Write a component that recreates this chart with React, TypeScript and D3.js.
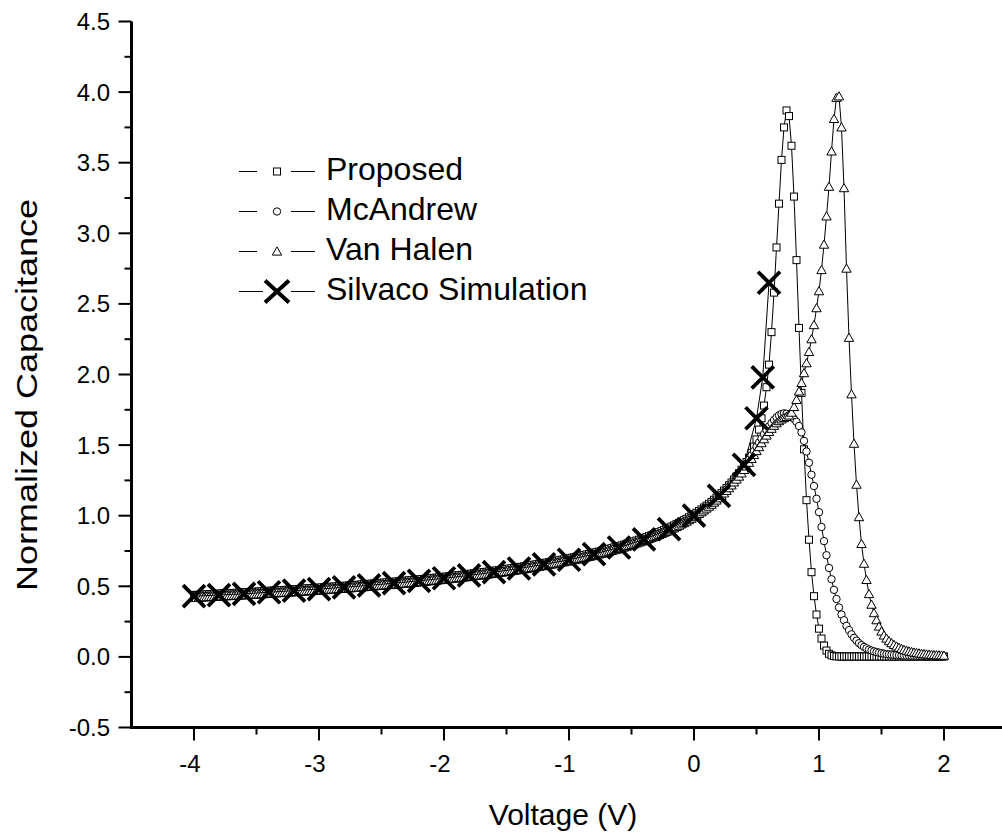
import React from 'react';
import * as d3 from 'd3';

// Voltage grid of the three model curves: -4 V to 2 V in 0.02 V steps
const VOLTAGE_START = -4;
const VOLTAGE_STEP = 0.02;

const PROPOSED = [
  0.439, 0.439, 0.440, 0.441, 0.442, 0.443, 0.444, 0.445, 0.446, 0.447,
  0.448, 0.449, 0.450, 0.450, 0.451, 0.452, 0.453, 0.454, 0.455, 0.456,
  0.457, 0.458, 0.459, 0.460, 0.461, 0.462, 0.463, 0.464, 0.465, 0.466,
  0.468, 0.469, 0.470, 0.471, 0.472, 0.473, 0.474, 0.475, 0.476, 0.477,
  0.479, 0.480, 0.481, 0.482, 0.483, 0.485, 0.486, 0.487, 0.488, 0.489,
  0.490, 0.492, 0.493, 0.494, 0.496, 0.497, 0.498, 0.499, 0.501, 0.502,
  0.503, 0.505, 0.506, 0.507, 0.509, 0.510, 0.511, 0.513, 0.514, 0.516,
  0.517, 0.519, 0.520, 0.522, 0.523, 0.525, 0.526, 0.528, 0.529, 0.531,
  0.532, 0.534, 0.535, 0.537, 0.539, 0.540, 0.542, 0.544, 0.545, 0.547,
  0.549, 0.551, 0.552, 0.554, 0.556, 0.558, 0.560, 0.561, 0.563, 0.565,
  0.567, 0.569, 0.571, 0.573, 0.575, 0.577, 0.579, 0.581, 0.583, 0.585,
  0.587, 0.590, 0.592, 0.594, 0.596, 0.598, 0.601, 0.603, 0.605, 0.608,
  0.610, 0.612, 0.615, 0.617, 0.620, 0.622, 0.625, 0.628, 0.630, 0.633,
  0.636, 0.638, 0.641, 0.644, 0.647, 0.650, 0.653, 0.656, 0.659, 0.662,
  0.665, 0.668, 0.671, 0.674, 0.678, 0.681, 0.684, 0.688, 0.691, 0.695,
  0.698, 0.702, 0.706, 0.709, 0.713, 0.717, 0.721, 0.725, 0.729, 0.733,
  0.738, 0.742, 0.746, 0.751, 0.755, 0.760, 0.765, 0.770, 0.775, 0.780,
  0.785, 0.790, 0.795, 0.801, 0.806, 0.812, 0.818, 0.824, 0.830, 0.836,
  0.842, 0.849, 0.855, 0.862, 0.869, 0.876, 0.883, 0.891, 0.899, 0.906,
  0.915, 0.923, 0.931, 0.940, 0.949, 0.959, 0.968, 0.978, 0.989, 0.999,
  1.010, 1.021, 1.033, 1.045, 1.058, 1.071, 1.084, 1.098, 1.113, 1.128,
  1.144, 1.160, 1.178, 1.196, 1.215, 1.235, 1.256, 1.278, 1.301, 1.326,
  1.352, 1.380, 1.410, 1.445, 1.490, 1.540, 1.610, 1.690, 1.780, 1.910,
  2.070, 2.300, 2.580, 2.900, 3.210, 3.520, 3.750, 3.870, 3.830, 3.620,
  3.260, 2.810, 2.330, 1.870, 1.470, 1.110, 0.830, 0.600, 0.430, 0.300,
  0.200, 0.130, 0.080, 0.045, 0.022, 0.011, 0.006, 0.004, 0.003, 0.003,
  0.003, 0.003, 0.003, 0.003, 0.003, 0.003, 0.003, 0.003, 0.003, 0.003,
  0.003, 0.003, 0.003, 0.003, 0.003, 0.003, 0.003, 0.003, 0.003, 0.003,
  0.003, 0.003, 0.003, 0.003, 0.003, 0.003, 0.003, 0.003, 0.003, 0.003,
  0.003, 0.003, 0.003, 0.003, 0.003, 0.003, 0.003, 0.003, 0.003, 0.003,
  0.003,
];

const MCANDREW = [
  0.429, 0.429, 0.430, 0.431, 0.432, 0.433, 0.434, 0.435, 0.436, 0.437,
  0.438, 0.439, 0.440, 0.440, 0.441, 0.442, 0.443, 0.444, 0.445, 0.446,
  0.447, 0.448, 0.449, 0.450, 0.451, 0.452, 0.453, 0.454, 0.455, 0.456,
  0.458, 0.459, 0.460, 0.461, 0.462, 0.463, 0.464, 0.465, 0.466, 0.467,
  0.469, 0.470, 0.471, 0.472, 0.473, 0.475, 0.476, 0.477, 0.478, 0.479,
  0.480, 0.482, 0.483, 0.484, 0.486, 0.487, 0.488, 0.489, 0.491, 0.492,
  0.493, 0.495, 0.496, 0.497, 0.499, 0.500, 0.501, 0.503, 0.504, 0.506,
  0.507, 0.509, 0.510, 0.512, 0.513, 0.515, 0.516, 0.518, 0.519, 0.521,
  0.522, 0.524, 0.525, 0.527, 0.529, 0.530, 0.532, 0.534, 0.535, 0.537,
  0.539, 0.541, 0.542, 0.544, 0.546, 0.548, 0.550, 0.551, 0.553, 0.555,
  0.557, 0.559, 0.561, 0.563, 0.565, 0.567, 0.569, 0.571, 0.573, 0.575,
  0.577, 0.580, 0.582, 0.584, 0.586, 0.588, 0.591, 0.593, 0.595, 0.598,
  0.600, 0.602, 0.605, 0.607, 0.610, 0.612, 0.615, 0.618, 0.620, 0.623,
  0.626, 0.628, 0.631, 0.634, 0.637, 0.640, 0.643, 0.646, 0.649, 0.652,
  0.655, 0.658, 0.661, 0.664, 0.668, 0.671, 0.674, 0.678, 0.681, 0.685,
  0.688, 0.692, 0.696, 0.699, 0.703, 0.707, 0.711, 0.715, 0.719, 0.723,
  0.728, 0.732, 0.736, 0.741, 0.745, 0.750, 0.755, 0.760, 0.765, 0.770,
  0.775, 0.780, 0.785, 0.791, 0.796, 0.802, 0.808, 0.814, 0.820, 0.826,
  0.832, 0.839, 0.845, 0.852, 0.859, 0.866, 0.873, 0.881, 0.889, 0.896,
  0.905, 0.913, 0.921, 0.930, 0.939, 0.949, 0.958, 0.968, 0.979, 0.989,
  1.000, 1.011, 1.023, 1.035, 1.048, 1.061, 1.074, 1.088, 1.103, 1.118,
  1.134, 1.150, 1.168, 1.186, 1.205, 1.225, 1.246, 1.268, 1.291, 1.316,
  1.342, 1.369, 1.398, 1.428, 1.458, 1.488, 1.518, 1.548, 1.578, 1.606,
  1.632, 1.656, 1.678, 1.697, 1.711, 1.720, 1.725, 1.722, 1.712, 1.700,
  1.685, 1.665, 1.635, 1.590, 1.530, 1.455, 1.375, 1.290, 1.210, 1.120,
  1.025, 0.920, 0.820, 0.720, 0.630, 0.550, 0.475, 0.410, 0.350, 0.300,
  0.260, 0.220, 0.190, 0.160, 0.135, 0.115, 0.097, 0.083, 0.071, 0.061,
  0.052, 0.045, 0.039, 0.034, 0.030, 0.026, 0.023, 0.020, 0.018, 0.016,
  0.014, 0.013, 0.012, 0.011, 0.010, 0.009, 0.009, 0.008, 0.008, 0.007,
  0.007, 0.007, 0.006, 0.006, 0.006, 0.006, 0.005, 0.005, 0.005, 0.005,
  0.005,
];

const VAN_HALEN = [
  0.419, 0.419, 0.420, 0.421, 0.422, 0.423, 0.424, 0.425, 0.426, 0.427,
  0.428, 0.429, 0.430, 0.430, 0.431, 0.432, 0.433, 0.434, 0.435, 0.436,
  0.437, 0.438, 0.439, 0.440, 0.441, 0.442, 0.443, 0.444, 0.445, 0.446,
  0.448, 0.449, 0.450, 0.451, 0.452, 0.453, 0.454, 0.455, 0.456, 0.457,
  0.459, 0.460, 0.461, 0.462, 0.463, 0.465, 0.466, 0.467, 0.468, 0.469,
  0.470, 0.472, 0.473, 0.474, 0.476, 0.477, 0.478, 0.479, 0.481, 0.482,
  0.483, 0.485, 0.486, 0.487, 0.489, 0.490, 0.491, 0.493, 0.494, 0.496,
  0.497, 0.499, 0.500, 0.502, 0.503, 0.505, 0.506, 0.508, 0.509, 0.511,
  0.512, 0.514, 0.515, 0.517, 0.519, 0.520, 0.522, 0.524, 0.525, 0.527,
  0.529, 0.531, 0.532, 0.534, 0.536, 0.538, 0.540, 0.541, 0.543, 0.545,
  0.547, 0.549, 0.551, 0.553, 0.555, 0.557, 0.559, 0.561, 0.563, 0.565,
  0.567, 0.570, 0.572, 0.574, 0.576, 0.578, 0.581, 0.583, 0.585, 0.588,
  0.590, 0.592, 0.595, 0.597, 0.600, 0.602, 0.605, 0.608, 0.610, 0.613,
  0.616, 0.618, 0.621, 0.624, 0.627, 0.630, 0.633, 0.636, 0.639, 0.642,
  0.645, 0.648, 0.651, 0.654, 0.658, 0.661, 0.664, 0.668, 0.671, 0.675,
  0.678, 0.682, 0.686, 0.689, 0.693, 0.697, 0.701, 0.705, 0.709, 0.713,
  0.718, 0.722, 0.726, 0.731, 0.735, 0.740, 0.745, 0.750, 0.755, 0.760,
  0.765, 0.770, 0.775, 0.781, 0.786, 0.792, 0.798, 0.804, 0.810, 0.816,
  0.822, 0.829, 0.835, 0.842, 0.849, 0.856, 0.863, 0.871, 0.879, 0.886,
  0.895, 0.903, 0.911, 0.920, 0.929, 0.939, 0.948, 0.958, 0.969, 0.979,
  0.990, 1.001, 1.013, 1.025, 1.038, 1.051, 1.064, 1.078, 1.093, 1.108,
  1.124, 1.140, 1.158, 1.176, 1.195, 1.215, 1.236, 1.256, 1.277, 1.300,
  1.324, 1.349, 1.375, 1.402, 1.430, 1.458, 1.486, 1.514, 1.542, 1.568,
  1.593, 1.616, 1.637, 1.655, 1.670, 1.682, 1.692, 1.700, 1.710, 1.730,
  1.770, 1.820, 1.880, 1.940, 2.010, 2.080, 2.160, 2.250, 2.350, 2.470,
  2.590, 2.740, 2.920, 3.120, 3.330, 3.580, 3.810, 3.960, 3.970, 3.750,
  3.320, 2.750, 2.260, 1.860, 1.510, 1.220, 0.990, 0.800, 0.660, 0.545,
  0.445, 0.370, 0.310, 0.260, 0.215, 0.180, 0.152, 0.130, 0.112, 0.097,
  0.085, 0.074, 0.065, 0.057, 0.050, 0.044, 0.039, 0.035, 0.031, 0.028,
  0.025, 0.022, 0.020, 0.018, 0.016, 0.015, 0.013, 0.012, 0.011, 0.010,
  0.009,
];

const SILVACO_V = [
  -4.0, -3.8, -3.6, -3.4, -3.2, -3.0, -2.8, -2.6, -2.4, -2.2,
  -2.0, -1.8, -1.6, -1.4, -1.2, -1.0, -0.8, -0.6, -0.4, -0.2,
  0.0, 0.2, 0.4, 0.5, 0.55, 0.6,
];
const SILVACO_C = [
  0.43, 0.438, 0.447, 0.458, 0.469, 0.48, 0.493, 0.507, 0.522, 0.539,
  0.557, 0.577, 0.6, 0.626, 0.655, 0.688, 0.728, 0.775, 0.832, 0.905,
  1.0, 1.14, 1.36, 1.69, 1.98, 2.65,
];

const X_TICKS = [-4, -3, -2, -1, 0, 1, 2];
const X_MINOR = [-3.5, -2.5, -1.5, -0.5, 0.5, 1.5, 2.5];
const Y_TICKS = [-0.5, 0, 0.5, 1, 1.5, 2, 2.5, 3, 3.5, 4, 4.5];
const Y_MINOR = [-0.25, 0.25, 0.75, 1.25, 1.75, 2.25, 2.75, 3.25, 3.75, 4.25];
const SERIES_NAMES = ['Proposed', 'McAndrew', 'Van Halen', 'Silvaco Simulation'];

const W = 1002;
const H = 839;
const FONT = '"Liberation Sans", Arial, Helvetica, sans-serif';

type Kind = 'square' | 'circle' | 'triangle' | 'cross';

function Marker({ kind, cx, cy }: { kind: Kind; cx: number; cy: number }) {
  if (kind === 'square') {
    return <rect x={cx - 3.5} y={cy - 3.5} width={7} height={7} fill="#fff" stroke="#000" strokeWidth={1} />;
  }
  if (kind === 'circle') {
    return <circle cx={cx} cy={cy} r={3.7} fill="#fff" stroke="#000" strokeWidth={1} />;
  }
  if (kind === 'triangle') {
    return (
      <path
        d={`M${cx},${cy - 4.6}L${cx + 4.7},${cy + 3.6}L${cx - 4.7},${cy + 3.6}Z`}
        fill="#fff"
        stroke="#000"
        strokeWidth={1}
      />
    );
  }
  const s = 11;
  return (
    <path
      d={`M${cx - s},${cy - s}L${cx + s},${cy + s}M${cx - s},${cy + s}L${cx + s},${cy - s}`}
      stroke="#000"
      strokeWidth={3.8}
      fill="none"
    />
  );
}

export default function App() {
  const x = d3.scaleLinear().domain([-4.5, 2.5]).range([131.5, 1006.5]);
  const y = d3.scaleLinear().domain([-0.5, 4.5]).range([727.5, 21.5]);
  const volts = PROPOSED.map((_, i) => +(VOLTAGE_START + i * VOLTAGE_STEP).toFixed(2));

  const series: { name: string; kind: Kind; pts: [number, number][] }[] = [
    { name: SERIES_NAMES[0], kind: 'square', pts: volts.map((v, i) => [v, PROPOSED[i]]) },
    { name: SERIES_NAMES[1], kind: 'circle', pts: volts.map((v, i) => [v, MCANDREW[i]]) },
    { name: SERIES_NAMES[2], kind: 'triangle', pts: volts.map((v, i) => [v, VAN_HALEN[i]]) },
    { name: SERIES_NAMES[3], kind: 'cross', pts: SILVACO_V.map((v, i) => [v, SILVACO_C[i]]) },
  ];

  const line = d3
    .line<[number, number]>()
    .x((d) => x(d[0]))
    .y((d) => y(d[1]));

  const fmtY = (t: number) => d3.format('.1f')(t).replace('\u2212', '-');
  const fmtX = (t: number) => d3.format('d')(t).replace('\u2212', '-');
  const axisX0 = x(-4.5);
  const axisY0 = y(-0.5);

  const legendRows = [171, 211, 251, 291];

  return (
    <svg
      width={W}
      height={H}
      viewBox={`0 0 ${W} ${H}`}
      style={{ position: 'absolute', left: 0, top: 0, background: '#fff' }}
      fontFamily={FONT}
    >
      <rect x={0} y={0} width={W} height={H} fill="#fff" />

      {/* data */}
      {series.map((s) => (
        <g key={s.name}>
          <path d={line(s.pts) || ''} fill="none" stroke="#000" strokeWidth={1} />
          {s.pts.map((p, i) => (
            <Marker key={i} kind={s.kind} cx={x(p[0])} cy={y(p[1])} />
          ))}
        </g>
      ))}

      {/* y axis */}
      <line x1={axisX0} x2={axisX0} y1={y(4.5)} y2={axisY0 + 1.5} stroke="#000" strokeWidth={3} />
      {Y_TICKS.map((t) => (
        <g key={'yt' + t}>
          <line x1={axisX0 - 13} x2={axisX0} y1={y(t)} y2={y(t)} stroke="#000" strokeWidth={2} />
          <text x={110} y={y(t) + 8.5} textAnchor="end" fontSize={24}>
            {fmtY(t)}
          </text>
        </g>
      ))}
      {Y_MINOR.map((t) => (
        <line key={'ym' + t} x1={axisX0 - 7} x2={axisX0} y1={y(t)} y2={y(t)} stroke="#000" strokeWidth={2} />
      ))}

      {/* x axis */}
      <line x1={axisX0 - 1.5} x2={x(2.5)} y1={axisY0} y2={axisY0} stroke="#000" strokeWidth={3} />
      {X_TICKS.map((t) => (
        <g key={'xt' + t}>
          <line x1={x(t)} x2={x(t)} y1={axisY0} y2={axisY0 + 13} stroke="#000" strokeWidth={2} />
          <text x={x(t) - (t < 0 ? 4 : 0)} y={772} textAnchor="middle" fontSize={24}>
            {fmtX(t)}
          </text>
        </g>
      ))}
      {X_MINOR.map((t) => (
        <line key={'xm' + t} x1={x(t)} x2={x(t)} y1={axisY0} y2={axisY0 + 7} stroke="#000" strokeWidth={2} />
      ))}

      {/* axis titles */}
      <text x={563} y={825} textAnchor="middle" fontSize={30}>
        Voltage (V)
      </text>
      <text transform="translate(37,395) rotate(-90) scale(1.2,1)" textAnchor="middle" fontSize={30}>
        Normalized Capacitance
      </text>

      {/* legend */}
      {series.map((s, i) => {
        const cy = legendRows[i] + 0.5;
        const isCross = s.kind === 'cross';
        return (
          <g key={'lg' + s.name}>
            <line x1={239} x2={isCross ? 263 : 257} y1={cy} y2={cy} stroke="#000" strokeWidth={1} />
            <line x1={291} x2={315} y1={cy} y2={cy} stroke="#000" strokeWidth={1} />
            {isCross ? (
              <path d={`M265,${cy - 11}L289,${cy + 11}M265,${cy + 11}L289,${cy - 11}`} stroke="#000" strokeWidth={4} />
            ) : (
              <Marker kind={s.kind} cx={277} cy={cy} />
            )}
            <text x={326} y={cy + 8} fontSize={32}>
              {s.name}
            </text>
          </g>
        );
      })}
    </svg>
  );
}
